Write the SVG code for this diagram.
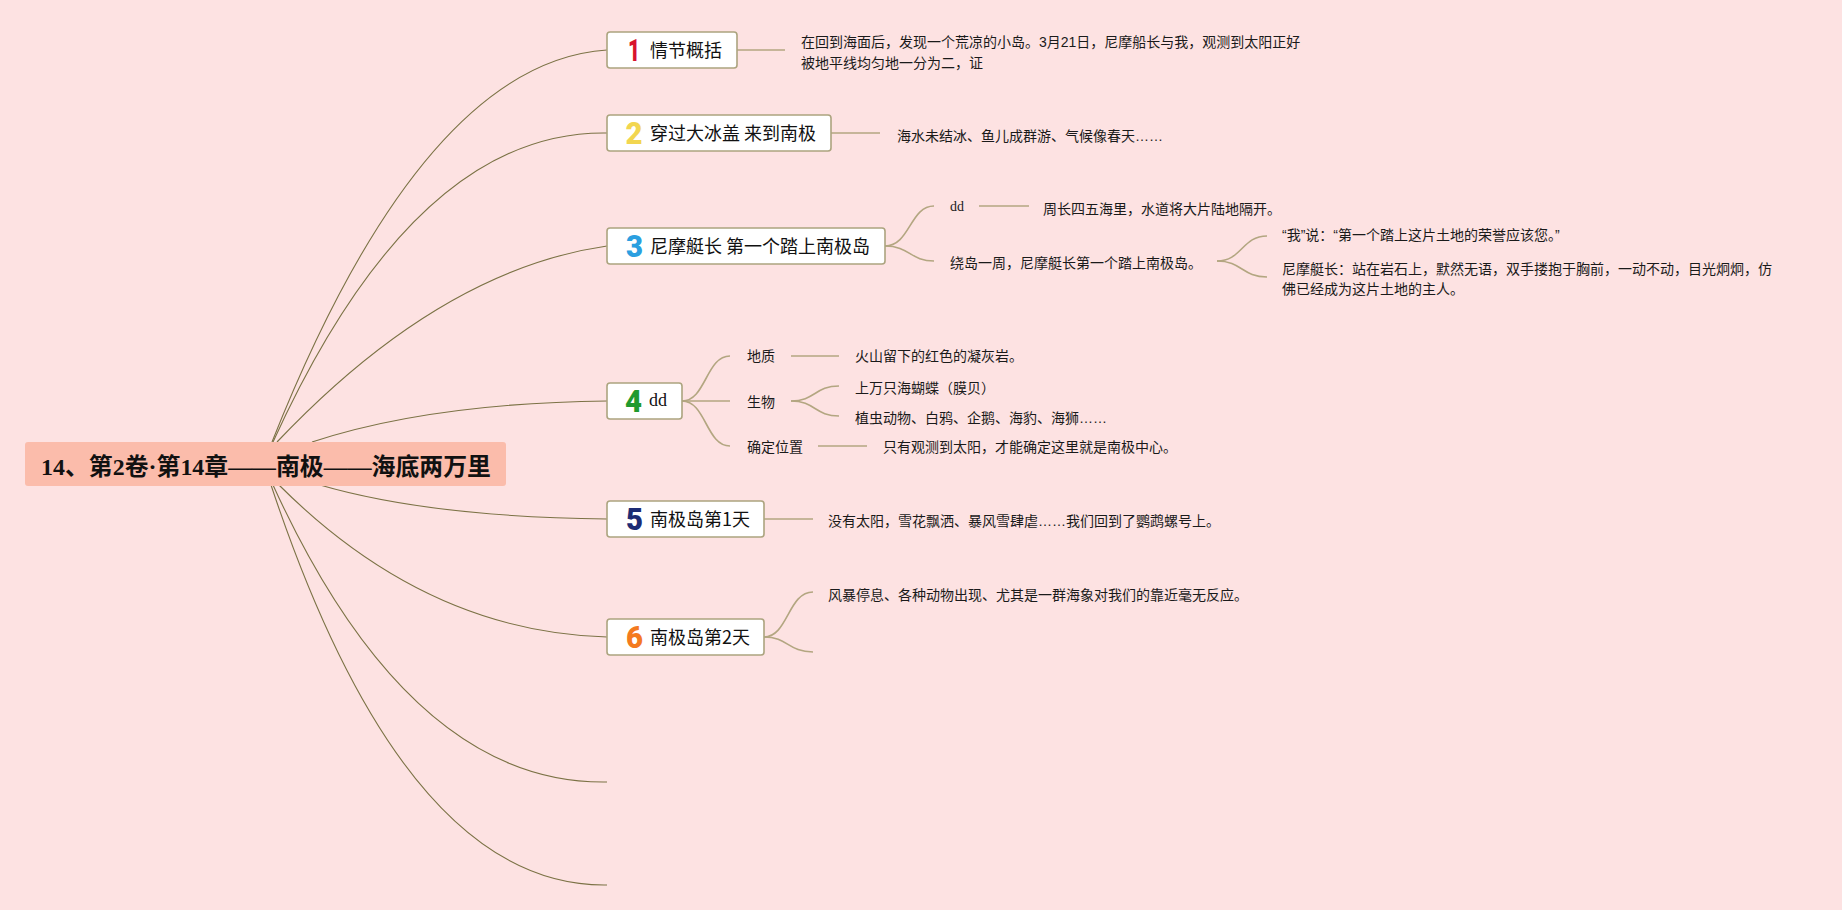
<svg xmlns="http://www.w3.org/2000/svg" width="1842" height="910" viewBox="0 0 1842 910">
<style>
.bg{fill:#fde2e2}
.root{fill:#fbbcab}
.rt{font-family:"Liberation Serif","Noto Sans CJK SC",serif;font-weight:bold;font-size:24px;fill:#111}
.box{fill:#fff;stroke:#aca47f;stroke-width:1.6}
.nt{font-family:"Noto Sans CJK SC","Liberation Sans",sans-serif;font-size:18px;fill:#111}
.ns{font-family:"Liberation Serif","Noto Sans CJK SC",serif;font-size:18px;fill:#111}
.num{font-family:Roboto,"Liberation Sans",sans-serif;font-weight:900;font-size:32px;text-anchor:middle}
.dt{font-family:"Liberation Sans","Noto Sans CJK SC",sans-serif;font-size:14px;fill:#1a1a1a}
.ds{font-family:"Liberation Serif","Noto Sans CJK SC",serif;font-size:14px;fill:#1a1a1a}
.main{fill:none;stroke:#7b7245;stroke-width:1.1}
.sub{fill:none;stroke:#b3a681;stroke-width:1.6}
</style>
<rect class="bg" x="0" y="0" width="1842" height="910"/>
<g id="connectors">
<path class="main" d="M272,442 Q423,62 607,50"/>
<path class="main" d="M273,442 Q415,130 607,133"/>
<path class="main" d="M277,442 Q440,270 607,246"/>
<path class="main" d="M312,442 Q430,403 607,401"/>
<path class="main" d="M320,485 Q430,517 607,519"/>
<path class="main" d="M279,485 Q426,632 607,637"/>
<path class="main" d="M273,485 Q410,785 607,782"/>
<path class="main" d="M271,485 Q405,888 607,885"/>
<path class="sub" d="M737,50 H785"/>
<path class="sub" d="M831,133 H880"/>
<path class="sub" d="M885,246 C910,246 910,206 934,206"/>
<path class="sub" d="M885,246 C910,246 910,261 934,261"/>
<path class="sub" d="M979,206 H1029"/>
<path class="sub" d="M1217,261 C1242,261 1242,236 1267,236"/>
<path class="sub" d="M1217,261 C1242,261 1242,277 1267,277"/>
<path class="sub" d="M682,401 C706,401 706,356 730,356"/>
<path class="sub" d="M682,401 H730"/>
<path class="sub" d="M682,401 C706,401 706,446 730,446"/>
<path class="sub" d="M791,356 H839"/>
<path class="sub" d="M791,401 C815,401 815,386 839,386"/>
<path class="sub" d="M791,401 C815,401 815,416 839,416"/>
<path class="sub" d="M818,446 H867"/>
<path class="sub" d="M764,519 H813"/>
<path class="sub" d="M764,637 C788,637 788,592 813,592"/>
<path class="sub" d="M764,637 C788,637 788,652 813,652"/>
</g>
<g id="root">
<rect class="root" x="25" y="442" width="481" height="44" rx="3"/>
<text class="rt" x="41" y="475" textLength="450" lengthAdjust="spacingAndGlyphs">14、第2卷·第14章——南极——海底两万里</text>
</g>
<g id="n1">
<rect class="box" x="607" y="32" width="130" height="36" rx="3"/>
<text class="num" x="634" y="61" fill="#d8132d" textLength="12" lengthAdjust="spacingAndGlyphs">1</text>
<text class="nt" x="650" y="57">情节概括</text>
</g>
<g id="n1d">
<text class="dt" x="801" y="47">在回到海面后，发现一个荒凉的小岛。3月21日，尼摩船长与我，观测到太阳正好</text>
<text class="dt" x="801" y="67.5">被地平线均匀地一分为二，证</text>
</g>
<g id="n2">
<rect class="box" x="607" y="115" width="224" height="36" rx="3"/>
<text class="num" x="634" y="144" fill="#f2d650" textLength="17" lengthAdjust="spacingAndGlyphs">2</text>
<text class="nt" x="650" y="140">穿过大冰盖 来到南极</text>
</g>
<g id="n2d"><text class="dt" x="897" y="140.5">海水未结冰、鱼儿成群游、气候像春天……</text></g>
<g id="n3">
<rect class="box" x="607" y="228" width="278" height="36" rx="3"/>
<text class="num" x="634.5" y="257" fill="#2b9fe0" textLength="17" lengthAdjust="spacingAndGlyphs">3</text>
<text class="nt" x="650" y="253">尼摩艇长 第一个踏上南极岛</text>
</g>
<g id="n3a"><text class="ds" x="950" y="211">dd</text></g>
<g id="n3a1"><text class="dt" x="1043" y="213.5">周长四五海里，水道将大片陆地隔开。</text></g>
<g id="n3b"><text class="dt" x="950" y="267.5">绕岛一周，尼摩艇长第一个踏上南极岛。</text></g>
<g id="n3b1"><text class="dt" x="1282" y="240">“我”说：“第一个踏上这片土地的荣誉应该您。”</text></g>
<g id="n3b2">
<text class="dt" x="1282" y="273.5">尼摩艇长：站在岩石上，默然无语，双手搂抱于胸前，一动不动，目光炯炯，仿</text>
<text class="dt" x="1282" y="294">佛已经成为这片土地的主人。</text>
</g>
<g id="n4">
<rect class="box" x="607" y="383" width="75" height="36" rx="3"/>
<text class="num" x="633.5" y="412" fill="#1f9a2e" textLength="17" lengthAdjust="spacingAndGlyphs">4</text>
<text class="ns" x="649" y="406">dd</text>
</g>
<g id="n4a"><text class="dt" x="747" y="361">地质</text></g>
<g id="n4a1"><text class="dt" x="855" y="361">火山留下的红色的凝灰岩。</text></g>
<g id="n4b"><text class="dt" x="747" y="407">生物</text></g>
<g id="n4b1"><text class="dt" x="855" y="393">上万只海蝴蝶（膜贝）</text></g>
<g id="n4b2"><text class="dt" x="855" y="423">植虫动物、白鸦、企鹅、海豹、海狮……</text></g>
<g id="n4c"><text class="dt" x="747" y="452">确定位置</text></g>
<g id="n4c1"><text class="dt" x="883" y="452">只有观测到太阳，才能确定这里就是南极中心。</text></g>
<g id="n5">
<rect class="box" x="607" y="501" width="157" height="36" rx="3"/>
<text class="num" x="634.5" y="530" fill="#1d2c74" textLength="17" lengthAdjust="spacingAndGlyphs">5</text>
<text class="nt" x="650" y="526">南极岛第1天</text>
</g>
<g id="n5d"><text class="dt" x="828" y="526">没有太阳，雪花飘洒、暴风雪肆虐……我们回到了鹦鹉螺号上。</text></g>
<g id="n6">
<rect class="box" x="607" y="619" width="157" height="36" rx="3"/>
<text class="num" x="634.5" y="648" fill="#f47a1f" textLength="17" lengthAdjust="spacingAndGlyphs">6</text>
<text class="nt" x="650" y="644">南极岛第2天</text>
</g>
<g id="n6d"><text class="dt" x="828" y="600">风暴停息、各种动物出现、尤其是一群海象对我们的靠近毫无反应。</text></g>
</svg>
